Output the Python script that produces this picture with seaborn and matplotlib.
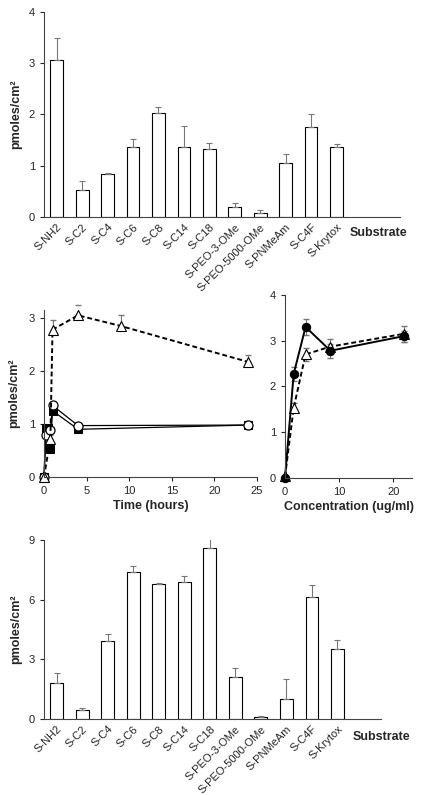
import numpy as np
import pandas as pd
import matplotlib
matplotlib.use('Agg')
import matplotlib.pyplot as plt
import seaborn as sns

sns.set_style('ticks')
plt.rcParams['font.family'] = ['Liberation Sans', 'DejaVu Sans']

# substrates shared by the two bar charts
substrates = ['S-NH2', 'S-C2', 'S-C4', 'S-C6', 'S-C8', 'S-C14', 'S-C18',
              'S-PEO-3-OMe', 'S-PEO-5000-OMe', 'S-PNMeAm', 'S-C4F', 'S-Krytox']

# top panel
top_vals = [3.07, 0.53, 0.84, 1.37, 2.03, 1.37, 1.33, 0.20, 0.08, 1.05, 1.76, 1.36]
top_err = [0.43, 0.18, 0.02, 0.15, 0.12, 0.41, 0.11, 0.08, 0.06, 0.18, 0.25, 0.06]

# bottom panel
bot_vals = [1.80, 0.45, 3.90, 7.40, 6.80, 6.90, 8.60, 2.10, 0.10, 1.00, 6.15, 3.50]
bot_err = [0.50, 0.10, 0.40, 0.30, 0.05, 0.30, 0.60, 0.45, 0.05, 1.00, 0.60, 0.45]

# middle left: time course
t_tri = [0, 0.75, 1, 4, 9, 24]
y_tri = [0.0, 0.72, 2.78, 3.05, 2.85, 2.17]
e_tri = [0.0, 0.08, 0.18, 0.20, 0.20, 0.13]
t_sq = [0, 0.2, 0.5, 0.75, 1, 4, 24]
y_sq = [0.0, 0.93, 0.93, 0.52, 1.25, 0.90, 0.98]
t_circ = [0, 0.25, 0.75, 1, 4, 24]
y_circ = [0.0, 0.80, 0.88, 1.35, 0.97, 0.98]
e_circ = [0.0, 0.0, 0.0, 0.06, 0.04, 0.08]

# middle right: concentration
c_x = [0, 1.6, 3.8, 8.4, 22]
c_fill = [0.0, 2.27, 3.30, 2.78, 3.10]
c_fill_err = [0.0, 0.15, 0.18, 0.15, 0.12]
c_tri = [0.03, 1.53, 2.70, 2.87, 3.15]
c_tri_err = [0.0, 0.10, 0.15, 0.17, 0.18]

fig = plt.figure(figsize=(4.21, 7.95), dpi=100)
ax_top = fig.add_axes([0.1045, 0.727, 0.846, 0.258])
ax_ml = fig.add_axes([0.1045, 0.400, 0.506, 0.210])
ax_mr = fig.add_axes([0.677, 0.399, 0.302, 0.230])
ax_bot = fig.add_axes([0.1045, 0.0956, 0.800, 0.225])

ylab = 'pmoles/cm²'
tick_fs = 8
lab_fs = 9


def bar_panel(ax, vals, err, ymax, yticks, xmax, sub_xy):
    df = pd.DataFrame({'substrate': substrates, 'value': vals})
    sns.barplot(data=df, x='substrate', y='value', ax=ax, color='white',
                edgecolor='black', linewidth=0.8, width=0.5, errorbar=None,
                saturation=1)
    x = np.arange(len(substrates))
    ax.errorbar(x, vals, yerr=[np.zeros(len(vals)), err], fmt='none',
                ecolor='#777777', elinewidth=0.8, capsize=2, capthick=0.8)
    ax.set_xlim(-0.5, xmax)
    ax.set_ylim(0, ymax)
    ax.set_yticks(yticks)
    ax.set_xlabel('')
    ax.set_ylabel(ylab, fontsize=lab_fs, fontweight='bold', labelpad=5)
    ax.set_xticks(x)
    ax.set_xticklabels(substrates, rotation=45, ha='right',
                       rotation_mode='anchor', fontsize=tick_fs)
    ax.tick_params(axis='y', labelsize=tick_fs, length=3, width=0.8)
    ax.tick_params(axis='x', length=0)
    fig.text(sub_xy[0] / 421, 1 - sub_xy[1] / 795, 'Substrate',
             ha='center', va='center', fontsize=lab_fs, fontweight='bold')
    sns.despine(ax=ax)
    for s in ['left', 'bottom']:
        ax.spines[s].set_linewidth(0.8)
        ax.spines[s].set_color('#444444')


bar_panel(ax_top, top_vals, top_err, 4, [0, 1, 2, 3, 4], 13.5, (378, 233))
bar_panel(ax_bot, bot_vals, bot_err, 9, [0, 3, 6, 9], 12.7, (381, 737))

# time course
ax = ax_ml
ax.errorbar(t_tri, y_tri, yerr=[np.zeros(len(e_tri)), e_tri], fmt='none',
            ecolor='#777777', elinewidth=0.8, capsize=2)
ax.errorbar(t_circ, y_circ, yerr=e_circ, fmt='none',
            ecolor='#777777', elinewidth=0.8, capsize=2)
sns.lineplot(x=t_sq, y=y_sq, ax=ax, color='black', linewidth=0.9,
             marker='s', markersize=5.5, markerfacecolor='black',
             markeredgecolor='black', sort=False)
sns.lineplot(x=t_circ, y=y_circ, ax=ax, color='black', linewidth=0.9,
             marker='o', markersize=6.5, markerfacecolor='white',
             markeredgecolor='black', markeredgewidth=0.9, sort=False)
sns.lineplot(x=t_tri, y=y_tri, ax=ax, color='black', linewidth=1.4,
             linestyle=(0, (2.5, 1.5)), marker='^', markersize=7,
             markerfacecolor='white', markeredgecolor='black',
             markeredgewidth=0.8, sort=False)
ax.set_xlim(0, 25)
ax.set_ylim(0, 3.15)
ax.set_xticks([0, 5, 10, 15, 20, 25])
ax.set_yticks([0, 1, 2, 3])
ax.set_xlabel('Time (hours)', fontsize=lab_fs, fontweight='bold', labelpad=3)
ax.set_ylabel(ylab, fontsize=lab_fs, fontweight='bold', labelpad=6)

# concentration
ax = ax_mr
ax.errorbar(c_x, c_fill, yerr=c_fill_err, fmt='none',
            ecolor='#777777', elinewidth=0.8, capsize=2)
ax.errorbar(c_x, c_tri, yerr=c_tri_err, fmt='none',
            ecolor='#777777', elinewidth=0.8, capsize=2)
sns.lineplot(x=c_x, y=c_tri, ax=ax, color='black', linewidth=1.4,
             linestyle=(0, (2.5, 1.5)), marker='^', markersize=7,
             markerfacecolor='white', markeredgecolor='black',
             markeredgewidth=0.8, sort=False)
sns.lineplot(x=c_x, y=c_fill, ax=ax, color='black', linewidth=1.4,
             marker='o', markersize=6, markerfacecolor='black',
             markeredgecolor='black', sort=False)
ax.set_xlim(0, 23.5)
ax.set_ylim(0, 4)
ax.set_xticks([0, 10, 20])
ax.set_yticks([0, 1, 2, 3, 4])
ax.set_xlabel('Concentration (ug/ml)', fontsize=lab_fs, fontweight='bold',
              labelpad=3)

for ax in [ax_ml, ax_mr]:
    sns.despine(ax=ax)
    ax.tick_params(labelsize=tick_fs, length=3, width=0.8)
    for s in ['left', 'bottom']:
        ax.spines[s].set_linewidth(0.8)
        ax.spines[s].set_color('#444444')
    for m in ax.lines:
        m.set_clip_on(False)

fig.savefig('out.png', dpi=100)
